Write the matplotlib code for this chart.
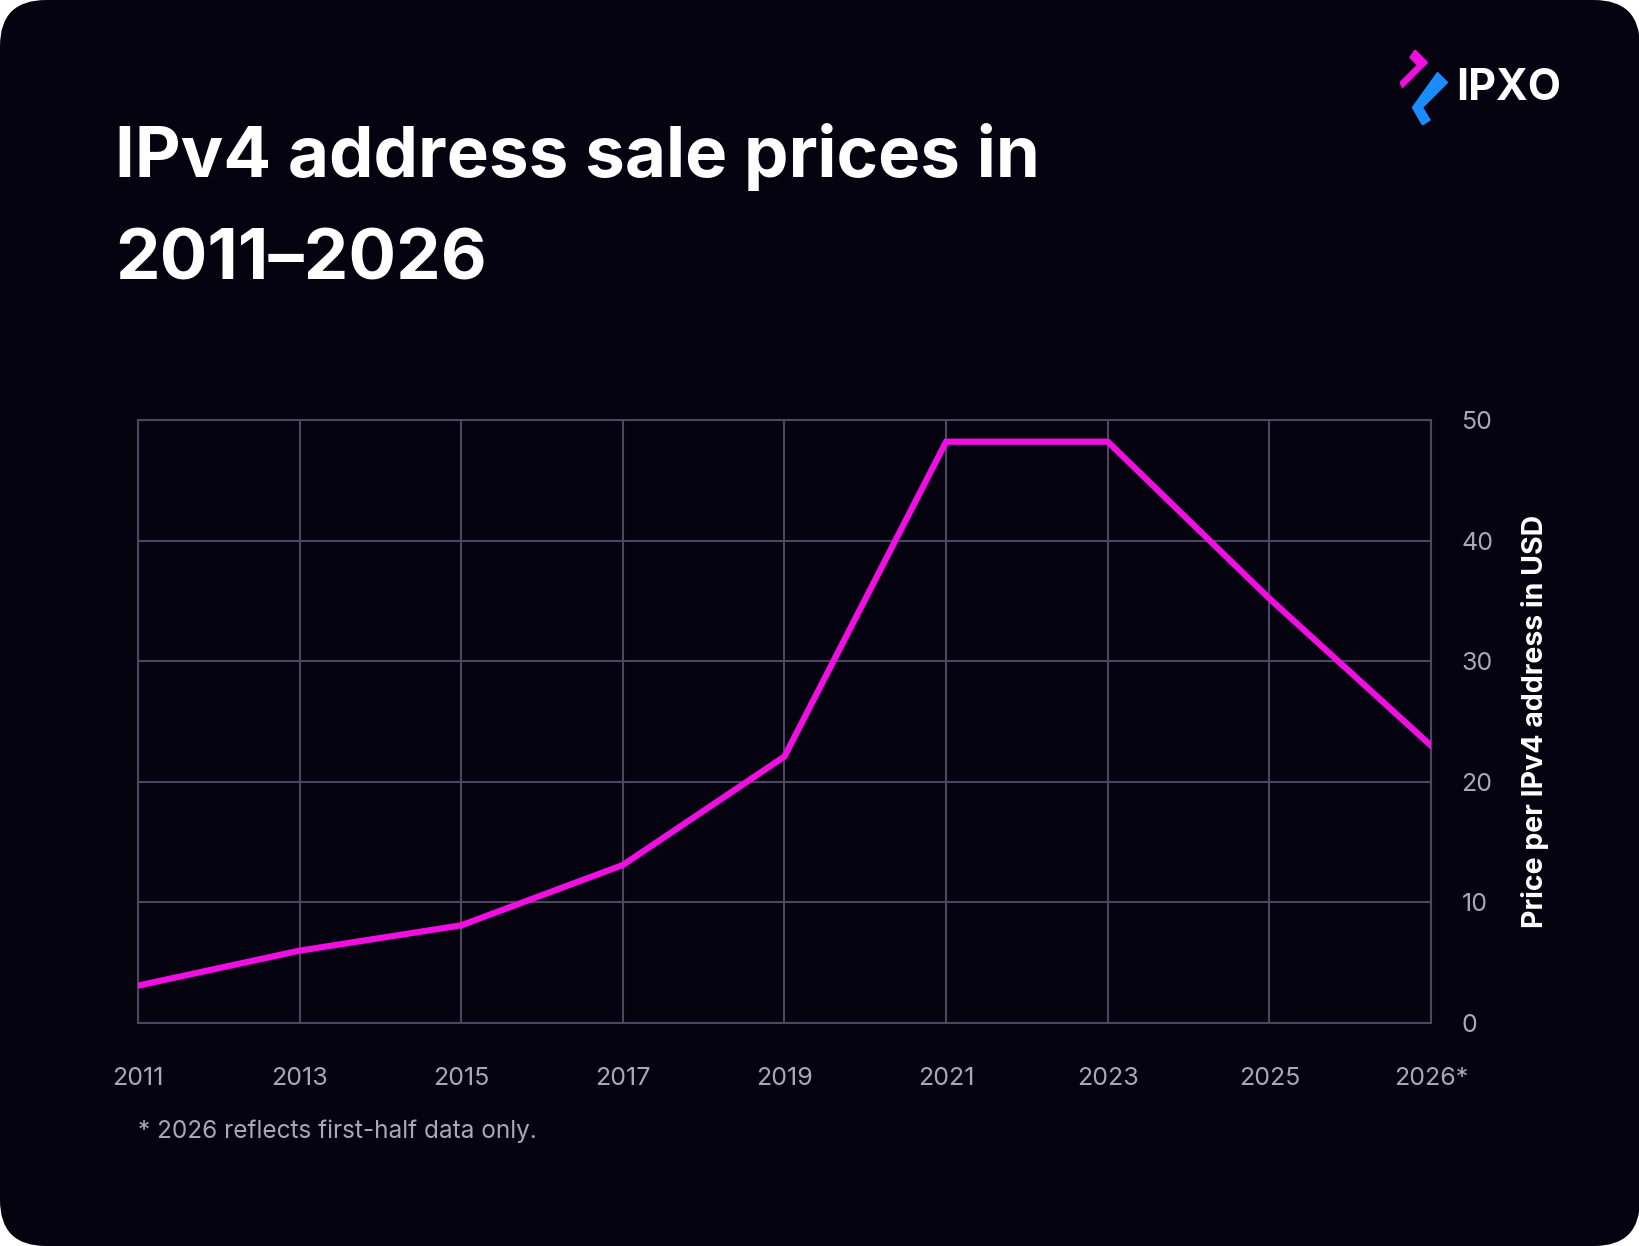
import matplotlib
matplotlib.use("Agg")
import matplotlib.pyplot as plt
from matplotlib.patches import FancyBboxPatch, Polygon

years = ["2011", "2013", "2015", "2017", "2019", "2021", "2023", "2025", "2026*"]
prices = [3.1, 6.0, 8.1, 13.1, 22.1, 48.2, 48.2, 35.2, 23.0]
yticks = [0, 10, 20, 30, 40, 50]

W, H = 1640, 1246
fig = plt.figure(figsize=(W/100, H/100), dpi=100)
fig.patch.set_facecolor("white")
bg = "#04030f"
bgax = fig.add_axes([0, 0, 1, 1], zorder=-10); bgax.axis("off")
bgax.set_xlim(0, 1); bgax.set_ylim(0, 1)
bgax.add_patch(FancyBboxPatch((0, 0), 1, 1, boxstyle="round,pad=0,rounding_size=0.028",
                              facecolor=bg, edgecolor="none", mutation_aspect=W/H))

ax = fig.add_axes([138/W, 1-1023/H, (1431-138)/W, (1023-420)/H])
ax.set_facecolor(bg)
x = list(range(len(years)))
ax.plot(x, prices, color="#f00ee0", lw=4.5, solid_joinstyle="miter", zorder=3)
ax.set_xlim(0, len(years)-1)
ax.set_ylim(0, 50)
ax.set_xticks(x)
ax.set_xticklabels(years)
ax.set_yticks(yticks)
ax.yaxis.tick_right()
ax.yaxis.set_label_position("right")
grid = "#4a4760"
ax.grid(True, color=grid, lw=1.5)
for s in ax.spines.values():
    s.set_color(grid); s.set_linewidth(1.5)
ax.tick_params(length=0, colors="#a9a7b8", labelsize=18, pad=22)
ax.tick_params(axis="x", pad=32)
ax.set_ylabel("Price per IPv4 address in USD", color="white", fontsize=20.5,
              fontweight="bold", labelpad=20, family="Inter")
for t in ax.get_xticklabels() + ax.get_yticklabels():
    t.set_family("Inter")

fig.text(115/W, 1-157/H, "IPv4 address sale prices in", color="white",
         fontsize=51, fontweight="bold", family="Inter", va="center")
fig.text(115/W, 1-261/H, "2011–2026", color="white",
         fontsize=51, fontweight="bold", family="Inter", va="center")
fig.text(138/W, 1-1131/H, "* 2026 reflects first-half data only.", color="#a9a7b8",
         fontsize=17.5, family="Inter", va="center")

# logo
fig.text(1456/W, 1-88/H, "IPXO", color="white", fontsize=31, fontweight="bold",
         family="Inter", va="center")
lx = fig.add_axes([1400/W, 1-125/H, 50/W, 75/H]); lx.axis("off")
lx.set_xlim(0, 1); lx.set_ylim(0, 1.5)
lx.add_patch(Polygon([[0.3, 1.5], [0.55, 1.25], [0.05, 0.75], [0.0, 0.85], [0.35, 1.2], [0.2, 1.35]],
                     color="#f00ee0"))
lx.add_patch(Polygon([[0.75, 1.05], [0.95, 0.85], [0.45, 0.35], [0.6, 0.1], [0.45, 0.0], [0.25, 0.35]],
                     color="#1a8cff"))
fig.savefig("out.png", dpi=100, facecolor=fig.get_facecolor())
